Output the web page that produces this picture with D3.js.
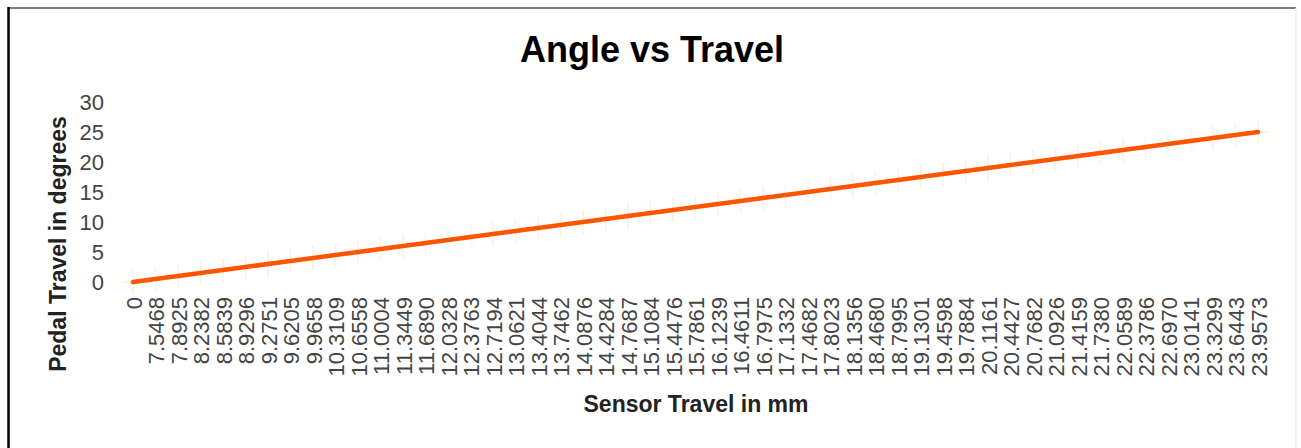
<!DOCTYPE html>
<html>
<head>
<meta charset="utf-8">
<script src="https://cdn.jsdelivr.net/npm/d3@7/dist/d3.min.js"></script>
<style>
  html, body { margin: 0; padding: 0; background: #fff; }
  svg { display: block; font-family: "Liberation Sans", Arial, sans-serif; }
</style>
</head>
<body>
<svg id="chart" width="1301" height="448"></svg>
<script>
// Sensor travel readings (mm), one category per sample
const sensorTravel = [
  "0", "7.5468", "7.8925", "8.2382", "8.5839", "8.9296", "9.2751", "9.6205",
  "9.9658", "10.3109", "10.6558", "11.0004", "11.3449", "11.6890", "12.0328",
  "12.3763", "12.7194", "13.0621", "13.4044", "13.7462", "14.0876", "14.4284",
  "14.7687", "15.1084", "15.4476", "15.7861", "16.1239", "16.4611", "16.7975",
  "17.1332", "17.4682", "17.8023", "18.1356", "18.4680", "18.7995", "19.1301",
  "19.4598", "19.7884", "20.1161", "20.4427", "20.7682", "21.0926", "21.4159",
  "21.7380", "22.0589", "22.3786", "22.6970", "23.0141", "23.3299", "23.6443",
  "23.9573"
];

// Pedal angle (degrees) at each sample
const pedalAngle = [
  0, 0.5, 1, 1.5, 2, 2.5, 3, 3.5, 4, 4.5, 5, 5.5, 6, 6.5, 7, 7.5, 8, 8.5,
  9, 9.5, 10, 10.5, 11, 11.5, 12, 12.5, 13, 13.5, 14, 14.5, 15, 15.5, 16,
  16.5, 17, 17.5, 18, 18.5, 19, 19.5, 20, 20.5, 21, 21.5, 22, 22.5, 23,
  23.5, 24, 24.5, 25
];

const yTicks = [0, 5, 10, 15, 20, 25, 30];

const svg = d3.select("#chart");
const W = 1301, H = 448;

// Outer frame
svg.append("line").attr("x1", 8).attr("x2", 1296).attr("y1", 8).attr("y2", 8)
  .attr("stroke", "#808080").attr("stroke-width", 2);
svg.append("line").attr("x1", 8.5).attr("x2", 8.5).attr("y1", 7).attr("y2", H)
  .attr("stroke", "#000").attr("stroke-width", 2.5);
svg.append("line").attr("x1", 1296).attr("x2", 1296).attr("y1", 8).attr("y2", H)
  .attr("stroke", "#ececec").attr("stroke-width", 1.5);

const x = d3.scalePoint().domain(sensorTravel).range([133, 1258]);
const y = d3.scaleLinear().domain([0, 30]).range([282, 102]);

// Title
svg.append("text")
  .attr("x", 652).attr("y", 62)
  .attr("text-anchor", "middle")
  .attr("font-size", 36).attr("font-weight", "bold").attr("fill", "#000")
  .text("Angle vs Travel");

// Y axis (labels only)
const yAxis = svg.append("g")
  .attr("transform", "translate(104,0)")
  .call(d3.axisLeft(y).tickValues(yTicks).tickSize(0).tickPadding(0));
yAxis.select(".domain").remove();
yAxis.selectAll("text")
  .attr("font-size", 22).attr("fill", "#444")
  .attr("font-family", "'Liberation Sans', Arial, sans-serif");

// X axis (rotated category labels)
const xAxis = svg.append("g")
  .attr("transform", "translate(0,297)")
  .call(d3.axisBottom(x).tickSize(0).tickPadding(0));
xAxis.select(".domain").remove();
xAxis.selectAll("text")
  .attr("font-size", 22).attr("fill", "#444")
  .attr("font-family", "'Liberation Sans', Arial, sans-serif")
  .attr("text-anchor", "end")
  .attr("dy", null)
  .attr("y", 0)
  .attr("x", 0)
  .attr("transform", "rotate(-90) translate(0,8)");

// Axis titles
svg.append("text")
  .attr("transform", "translate(66,244) rotate(-90)")
  .attr("text-anchor", "middle")
  .attr("font-size", 23).attr("font-weight", "bold").attr("fill", "#222")
  .text("Pedal Travel in degrees");

svg.append("text")
  .attr("x", 696).attr("y", 412)
  .attr("text-anchor", "middle")
  .attr("font-size", 23).attr("font-weight", "bold").attr("fill", "#222")
  .text("Sensor Travel in mm");

const pts = sensorTravel.map((c, i) => ({ c, v: pedalAngle[i] }));

// Faint plus markers at each sample
const mk = svg.append("g").attr("stroke", "#ffe6bf").attr("stroke-width", 1.5)
  .attr("opacity", 0.55);
mk.selectAll("path").data(pts).join("path")
  .attr("d", d => {
    const px = x(d.c), py = y(d.v);
    return `M${px - 11},${py}H${px + 11}M${px},${py - 12}V${py + 12}`;
  });

// Series line
svg.append("path")
  .datum(pts)
  .attr("fill", "none")
  .attr("stroke", "#ff5500")
  .attr("stroke-width", 4.5)
  .attr("stroke-linecap", "round")
  .attr("stroke-linejoin", "round")
  .attr("d", d3.line().x(d => x(d.c)).y(d => y(d.v)));
</script>
</body>
</html>
